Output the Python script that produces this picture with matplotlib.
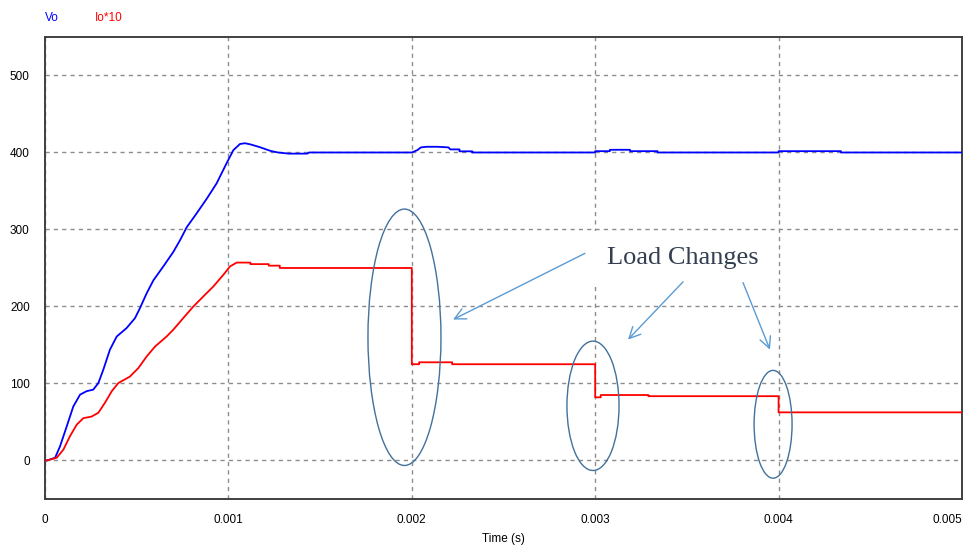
import matplotlib
matplotlib.use('Agg')
import matplotlib.pyplot as plt
from matplotlib.patches import Ellipse

# Vo (blue) waveform
t_vo = [0, 0.00001, 0.000055, 0.000082, 0.000118, 0.000154, 0.000191, 0.000227, 0.000263,
        0.000291, 0.000318, 0.000354, 0.000391, 0.000445, 0.000491, 0.000518, 0.000554,
        0.000591, 0.000645, 0.0007, 0.000736, 0.000773, 0.000827, 0.000882, 0.000936,
        0.00099, 0.001027, 0.001063, 0.00109, 0.00112, 0.00117, 0.00123, 0.00127, 0.00133,
        0.00143, 0.00144, 0.002, 0.00203, 0.00205, 0.00208, 0.00214, 0.0022, 0.00221,
        0.00226, 0.00226, 0.00233, 0.00233, 0.003, 0.003, 0.00308, 0.00308, 0.00319,
        0.00319, 0.00334, 0.00334, 0.004, 0.004, 0.00434, 0.00434, 0.005]
vo = [0, 0, 3.5, 18.5, 44, 70, 85.5, 90, 92, 100.6, 118, 144, 161, 172, 185, 198, 217, 234,
      252, 271, 286, 303, 321, 340, 360, 386, 403, 411, 412, 410.5, 407, 402, 400, 398.5,
      398.5, 400, 400, 403, 406.6, 407.4, 407.4, 406.6, 404, 404, 401.5, 401.5, 400, 400,
      401.7, 401.7, 403.5, 403.5, 401.7, 401.7, 400, 400, 401.7, 401.7, 400, 400]

# Io*10 (red) waveform
t_io = [0, 0.00001, 0.0000636, 0.0001, 0.000136, 0.000173, 0.000209, 0.000254, 0.000291,
        0.000327, 0.000364, 0.0004, 0.000463, 0.000509, 0.000554, 0.0006, 0.000663, 0.0007,
        0.000754, 0.000809, 0.000863, 0.000918, 0.000972, 0.001009, 0.001045, 0.00112,
        0.00112, 0.00122, 0.00122, 0.00128, 0.00128, 0.002, 0.002, 0.00204, 0.00204,
        0.00222, 0.00222, 0.003, 0.003, 0.00303, 0.00303, 0.00329, 0.00329, 0.004, 0.004,
        0.005]
io = [0, 0, 3.5, 14, 31.5, 46.6, 55, 57, 62, 75, 90, 100.6, 109, 120, 135, 148, 161, 170,
      185, 200, 213, 226, 241, 252, 257, 257, 255, 255, 253, 253, 250, 250, 125, 125, 127.5,
      127.5, 125, 125, 82, 82, 85, 85, 83.5, 83.5, 62.5, 62.5]

x_ticks = [0, 0.001, 0.002, 0.003, 0.004, 0.005]
x_labels = ['0', '0.001', '0.002', '0.003', '0.004', '0.005']
y_ticks = [0, 100, 200, 300, 400, 500]

# annotation: ellipses (center t, center y, width, height)
ell_t = [0.00196, 0.002988, 0.00397]
ell_y = [160, 71, 47]
ell_w = [0.000398, 0.000284, 0.000207]
ell_h = [333, 168, 140]

note_text = 'Load Changes'
note_xy = (0.003479, 263)
arrow_from = [(0.002944, 269), (0.003479, 232), (0.003806, 231)]
arrow_to = [(0.002225, 183), (0.003179, 157), (0.003953, 144)]

fig = plt.figure(figsize=(9.64, 5.47), dpi=100)
ax = fig.add_axes([0.0467, 0.0878, 0.9512, 0.8446])

ax.plot(t_vo, vo, color='#0000FF', lw=1.3, zorder=3)
ax.plot(t_io, io, color='#FF0000', lw=1.3, zorder=3)

ax.set_xlim(0, 0.005)
ax.set_ylim(-50, 550)
ax.set_xticks(x_ticks)
ax.set_xticklabels(x_labels, fontfamily='Liberation Sans', fontsize=8.5)
ax.set_yticks(y_ticks)
ax.set_yticklabels([str(v) for v in y_ticks], fontfamily='Liberation Sans', fontsize=8.5)
ax.get_xticklabels()[-1].set_ha('right')
ax.tick_params(length=0)
ax.tick_params(axis='y', pad=11)
ax.tick_params(axis='x', pad=11)
ax.grid(True, color='#8c8c8c', linestyle=(0, (3, 3)), lw=1)
for s in ax.spines.values():
    s.set_color('#404040')
    s.set_linewidth(1.4)

ax.set_xlabel('Time (s)', fontfamily='Liberation Sans', fontsize=8.5, labelpad=5)

fig.text(0.047, 0.967, 'Vo', color='#0000FF', fontfamily='Liberation Sans', fontsize=8.5,
         va='center')
fig.text(0.098, 0.967, 'Io*10', color='#FF0000', fontfamily='Liberation Sans', fontsize=8.5,
         va='center')

for cx, cy, w, h in zip(ell_t, ell_y, ell_w, ell_h):
    ax.add_patch(Ellipse((cx, cy), w, h, fill=False, edgecolor='#41719C', lw=1, zorder=4))

ax.text(note_xy[0], note_xy[1], note_text, fontfamily='Liberation Serif', fontsize=19,
        color='#333F50', ha='center', va='center', zorder=5,
        bbox=dict(boxstyle='square,pad=0.6', fc='white', ec='none'))

for (x0, y0), (x1, y1) in zip(arrow_from, arrow_to):
    ax.annotate('', xy=(x1, y1), xytext=(x0, y0), zorder=6,
                arrowprops=dict(arrowstyle='->,head_length=0.8,head_width=0.4',
                                color='#5B9BD5', lw=1, shrinkA=0, shrinkB=0))

fig.savefig('out.png', dpi=100)
